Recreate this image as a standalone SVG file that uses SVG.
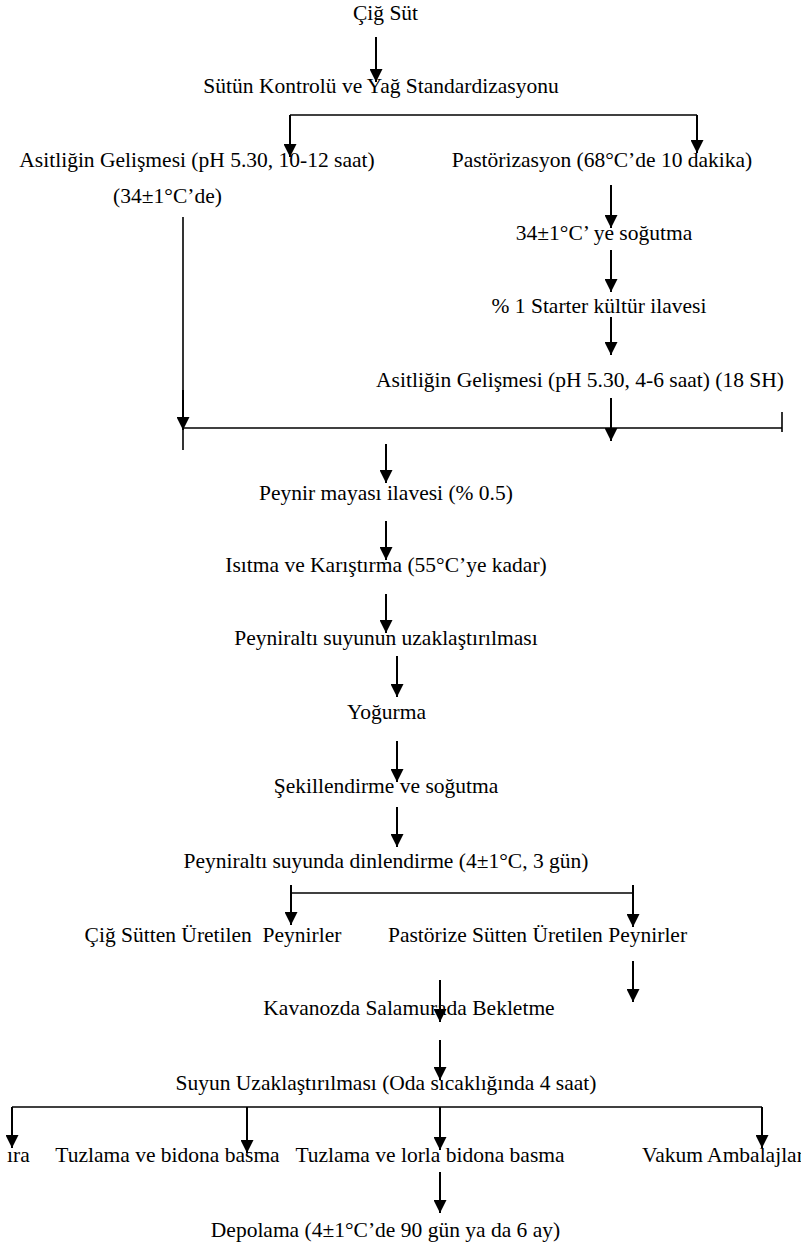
<svg xmlns="http://www.w3.org/2000/svg" width="801" height="1242" viewBox="0 0 801 1242">
<style>
text{font-family:"Liberation Serif","Times New Roman",serif;font-size:21.5px;fill:#000;white-space:pre}
.c{text-anchor:middle}
.a{stroke:#000;stroke-width:2;fill:none;marker-end:url(#ah)}
.l{stroke:#000;stroke-width:1.6;fill:none}
</style>
<defs>
<marker id="ah" markerUnits="userSpaceOnUse" markerWidth="13" markerHeight="13" viewBox="0 0 13 13" refX="13" refY="6.5" orient="auto">
<path d="M0,0 L13,6.5 L0,13 z" fill="#000"/>
</marker>
</defs>
<rect width="801" height="1242" fill="#fff"/>
<g id="connectors">
<line class="a" x1="376" y1="37" x2="376" y2="82"/>
<line class="l" x1="290" y1="115" x2="697" y2="115"/>
<line class="a" x1="290" y1="115" x2="290" y2="157"/>
<line class="a" x1="697" y1="115" x2="697" y2="153"/>
<line class="l" x1="183" y1="217" x2="183" y2="450"/>
<line class="a" x1="183" y1="390" x2="183" y2="430"/>
<line class="a" x1="611" y1="185" x2="611" y2="228"/>
<line class="a" x1="611" y1="250" x2="611" y2="292"/>
<line class="a" x1="611" y1="317" x2="611" y2="355"/>
<line class="a" x1="611" y1="398" x2="611" y2="441"/>
<line class="l" x1="183" y1="428" x2="782" y2="428"/>
<line class="l" x1="782" y1="412" x2="782" y2="432"/>
<line class="a" x1="386" y1="444" x2="386" y2="483"/>
<line class="a" x1="386" y1="521" x2="386" y2="560"/>
<line class="a" x1="386" y1="594" x2="386" y2="633"/>
<line class="a" x1="397" y1="656" x2="397" y2="697"/>
<line class="a" x1="397" y1="741" x2="397" y2="782"/>
<line class="a" x1="397" y1="807" x2="397" y2="847"/>
<line class="l" x1="291" y1="893" x2="633" y2="893"/>
<line class="a" x1="291" y1="885" x2="291" y2="925"/>
<line class="a" x1="633" y1="885" x2="633" y2="927"/>
<line class="a" x1="633" y1="961" x2="633" y2="1002"/>
<line class="a" x1="440" y1="980" x2="440" y2="1022"/>
<line class="a" x1="440" y1="1040" x2="440" y2="1080"/>
<line class="l" x1="12" y1="1107" x2="762" y2="1107"/>
<line class="a" x1="12" y1="1107" x2="12" y2="1148"/>
<line class="a" x1="247" y1="1107" x2="247" y2="1153"/>
<line class="a" x1="440" y1="1107" x2="440" y2="1150"/>
<line class="a" x1="762" y1="1107" x2="762" y2="1148"/>
<line class="a" x1="440" y1="1172" x2="440" y2="1213"/>
</g>
<g id="n1"><text class="c" x="385.5" y="20">Çiğ Süt</text></g>
<g id="n2"><text class="c" x="381" y="93">Sütün Kontrolü ve Yağ Standardizasyonu</text></g>
<g id="n3"><text class="c" x="197" y="167">Asitliğin Gelişmesi (pH 5.30, 10-12 saat)</text><text class="c" x="167.5" y="203">(34±1°C’de)</text></g>
<g id="n4"><text class="c" x="602" y="167">Pastörizasyon (68°C’de 10 dakika)</text></g>
<g id="n5"><text class="c" x="604" y="240">34±1°C’ ye soğutma</text></g>
<g id="n6"><text class="c" x="599" y="313">% 1 Starter kültür ilavesi</text></g>
<g id="n7"><text class="c" x="580" y="387">Asitliğin Gelişmesi (pH 5.30, 4-6 saat) (18 SH)</text></g>
<g id="n8"><text class="c" x="386" y="500">Peynir mayası ilavesi (% 0.5)</text></g>
<g id="n9"><text class="c" x="386" y="572">Isıtma ve Karıştırma (55°C’ye kadar)</text></g>
<g id="n10"><text class="c" x="386" y="645">Peyniraltı suyunun uzaklaştırılması</text></g>
<g id="n11"><text class="c" x="386.5" y="719">Yoğurma</text></g>
<g id="n12"><text class="c" x="386" y="793">Şekillendirme ve soğutma</text></g>
<g id="n13"><text class="c" x="386" y="868">Peyniraltı suyunda dinlendirme (4±1°C, 3 gün)</text></g>
<g id="n14"><text class="c" x="213" y="942">Çiğ Sütten Üretilen  Peynirler</text></g>
<g id="n15"><text class="c" x="537.5" y="942">Pastörize Sütten Üretilen Peynirler</text></g>
<g id="n16"><text class="c" x="409" y="1015">Kavanozda Salamurada Bekletme</text></g>
<g id="n17"><text class="c" x="386" y="1090">Suyun Uzaklaştırılması (Oda sıcaklığında 4 saat)</text></g>
<g id="n18"><text x="7" y="1162">ıra</text></g>
<g id="n19"><text class="c" x="167.5" y="1162">Tuzlama ve bidona basma</text></g>
<g id="n20"><text class="c" x="430" y="1162">Tuzlama ve lorla bidona basma</text></g>
<g id="n21"><text x="642" y="1162">Vakum Ambalajlar</text></g>
<g id="n22"><text class="c" x="385.5" y="1237">Depolama (4±1°C’de 90 gün ya da 6 ay)</text></g>
</svg>
